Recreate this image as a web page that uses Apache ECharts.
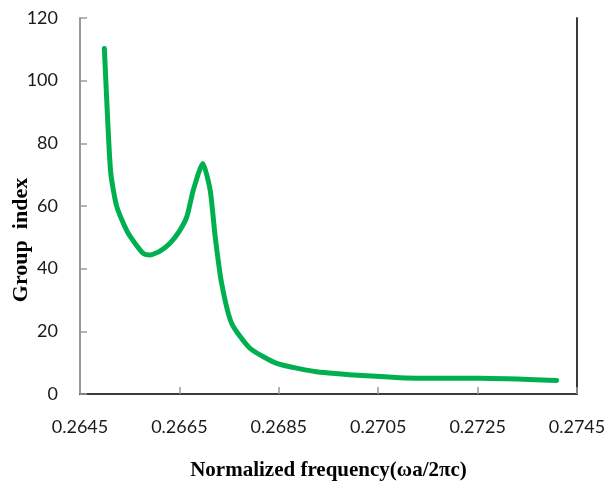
<!DOCTYPE html>
<html>
<head>
<meta charset="utf-8">
<script src="https://cdn.jsdelivr.net/npm/echarts@6/dist/echarts.min.js"></script>
<style>
  html, body { margin: 0; padding: 0; background: #fff; }
  #chart { width: 609px; height: 490px; }
</style>
</head>
<body>
<div id="chart"></div>
<script>
// Normalized frequency (ωa/2πc) samples
const frequency = [
  0.26499, 0.26506, 0.26512, 0.26524, 0.26547, 0.26577,
  0.26591, 0.26610, 0.26631, 0.26650, 0.26665, 0.26678, 0.26697, 0.26712,
  0.26722, 0.26735, 0.26755, 0.26792, 0.26846, 0.26926, 0.27027, 0.27134,
  0.27255, 0.27409
];
// Group index at each frequency
const groupIndex = [
  110.3, 86.4, 70.4, 59.8, 51.3, 44.9,
  44.4, 45.5, 48.1, 52.0, 56.6, 65.1, 73.6, 65.0,
  50.2, 35.3, 22.6, 14.6, 9.8, 7.1, 5.8, 5.0,
  5.0, 4.3
];
const xTicks = [0.2645, 0.2665, 0.2685, 0.2705, 0.2725, 0.2745];
const yTicks = [0, 20, 40, 60, 80, 100, 120];

const points = frequency.map((f, i) => [f, groupIndex[i]]);

const tickFont = { fontFamily: 'Lato, "Open Sans", sans-serif', fontSize: 18, color: '#1a1a1a' };
const titleFont = { fontFamily: '"Liberation Serif", "DejaVu Serif", serif', fontWeight: 'bold', fontSize: 21, color: '#000' };

const chart = echarts.init(document.getElementById('chart'), null, { renderer: 'canvas' });
chart.setOption({
  animation: false,
  backgroundColor: '#ffffff',
  grid: { left: 80, top: 18, right: 32, bottom: 96, containLabel: false, outerBoundsMode: 'none' },
  xAxis: [
    {
      type: 'value',
      min: xTicks[0], max: xTicks[xTicks.length - 1], interval: 0.002,
      axisLine: { show: true, lineStyle: { color: '#9a9a9a', width: 2 } },
      axisTick: { show: true, inside: true, length: 7, lineStyle: { color: '#9a9a9a', width: 1.5 } },
      splitLine: { show: false },
      axisLabel: Object.assign({ margin: 24, formatter: v => v.toFixed(4) }, tickFont),
      name: 'Normalized frequency(ωa/2πc)',
      nameLocation: 'middle', nameGap: 66, nameMoveOverlap: false,
      nameTextStyle: titleFont
    },
    {
      type: 'value', position: 'top',
      min: xTicks[0], max: xTicks[xTicks.length - 1],
      axisLine: { show: true, lineStyle: { color: '#3a3a3a', width: 2 } },
      axisTick: { show: false }, axisLabel: { show: false }, splitLine: { show: false }
    }
  ],
  yAxis: [
    {
      type: 'value',
      min: yTicks[0], max: yTicks[yTicks.length - 1], interval: 20,
      axisLine: { show: true, lineStyle: { color: '#9a9a9a', width: 2 } },
      axisTick: { show: true, inside: true, length: 7, lineStyle: { color: '#9a9a9a', width: 1.5 } },
      splitLine: { show: false },
      axisLabel: Object.assign({ margin: 22 }, tickFont),
      name: 'Group  index',
      nameLocation: 'middle', nameGap: 48, nameMoveOverlap: false,
      nameTextStyle: Object.assign({}, titleFont, { fontSize: 22, padding: [0, 68, 0, 0] })
    },
    {
      type: 'value', position: 'right',
      min: yTicks[0], max: yTicks[yTicks.length - 1],
      axisLine: { show: true, lineStyle: { color: '#3a3a3a', width: 2 } },
      axisTick: { show: false }, axisLabel: { show: false }, splitLine: { show: false }
    }
  ],
  series: [{
    type: 'line',
    data: points,
    showSymbol: false,
    smooth: 0.2,
    lineStyle: { color: '#00b050', width: 5, cap: 'round', join: 'round' }
  }]
});
</script>
</body>
</html>
